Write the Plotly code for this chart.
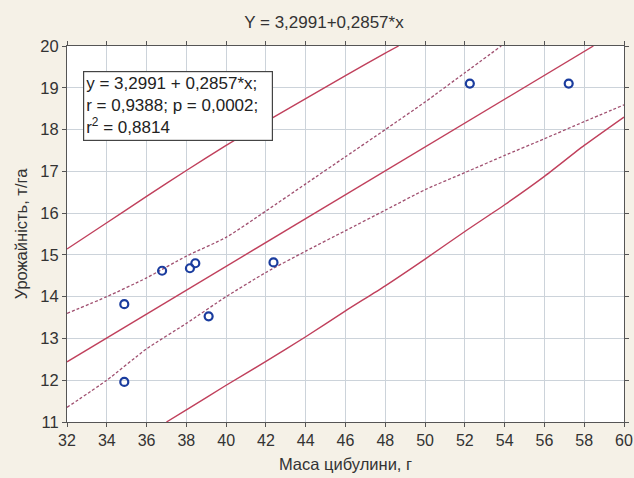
import plotly.graph_objects as go

# Observed data points
mass_g = [34.88, 34.88, 36.78, 38.18, 38.45, 39.12, 42.38, 52.25, 57.22]
yield_t = [13.82, 11.96, 14.62, 14.68, 14.80, 13.53, 14.82, 19.10, 19.10]

# Regression line
reg_x = [32.0, 58.46]
reg_y = [12.44, 20.0]

# Upper prediction band (solid)
pu_x = [32, 34, 36, 38, 40, 42, 44, 46, 48, 48.67]
pu_y = [15.14, 15.77, 16.40, 17.02, 17.62, 18.19, 18.74, 19.29, 19.83, 20.0]

# Lower prediction band (solid)
pl_x = [37.0, 38, 40, 42, 44, 46, 48, 50, 52, 54, 56, 58, 60]
pl_y = [11.0, 11.29, 11.88, 12.45, 13.04, 13.66, 14.26, 14.9, 15.56, 16.2, 16.88, 17.62, 18.3]

# Upper confidence band (dashed)
cu_x = [32, 34, 36, 38, 40, 42, 44, 46, 48, 50, 52, 53.83]
cu_y = [13.6, 14.0, 14.45, 14.97, 15.42, 16.05, 16.7, 17.35, 18.0, 18.66, 19.36, 20.0]

# Lower confidence band (dashed)
cl_x = [32, 34, 36, 38, 40, 42, 44, 46, 48, 50, 52, 54, 56, 58, 60]
cl_y = [11.35, 12.0, 12.75, 13.36, 14.0, 14.58, 15.09, 15.58, 16.07, 16.56, 16.97, 17.38, 17.78, 18.19, 18.59]

title_text = "Y = 3,2991+0,2857*x"
box_lines = ["y = 3,2991 + 0,2857*x;", "r = 0,9388; p = 0,0002;", "r<sup>2</sup> = 0,8814"]

red = "#c0405c"
dash_col = "#a05070"
paper_col = "#f5f1e7"

fig = go.Figure()
for xs, ys in [(pu_x, pu_y), (pl_x, pl_y), (reg_x, reg_y)]:
    fig.add_trace(go.Scatter(x=xs, y=ys, mode="lines",
                             line=dict(color=red, width=1.4, shape="spline", smoothing=0.6),
                             showlegend=False, hoverinfo="skip"))
for xs, ys in [(cu_x, cu_y), (cl_x, cl_y)]:
    fig.add_trace(go.Scatter(x=xs, y=ys, mode="lines",
                             line=dict(color=dash_col, width=1.3, dash="3px,2px", shape="spline", smoothing=0.6),
                             showlegend=False, hoverinfo="skip"))
fig.add_trace(go.Scatter(x=mass_g, y=yield_t, mode="markers",
                         marker=dict(symbol="circle-open", size=8, color="#1a3c9e",
                                     line=dict(width=2.2, color="#1a3c9e")),
                         showlegend=False))

font_fam = "Arial, Liberation Sans, sans-serif"
fs = 16.5
fig.update_layout(
    width=634, height=478,
    margin=dict(l=67, r=10, t=46, b=56, autoexpand=False),
    paper_bgcolor=paper_col,
    plot_bgcolor="white",
    font=dict(family=font_fam, size=fs, color="#333333"),
    title=dict(text=title_text, x=0.511, xanchor="center", xref="container",
               y=0.953, yanchor="middle", yref="container",
               font=dict(size=17, color="#333333")),
    annotations=[dict(
        text="<br>".join(box_lines), xref="paper", yref="paper",
        x=0.0285, y=0.934, xanchor="left", yanchor="top", align="left", showarrow=False,
        width=184, bgcolor="white", bordercolor="#444444", borderwidth=1.2, borderpad=2,
        font=dict(size=17, color="#222222"))],
)
fig.update_xaxes(range=[32, 60], dtick=2, showgrid=True, gridcolor="#ccd3da", gridwidth=1,
                 showline=True, linecolor="#555555", linewidth=1.2, mirror="ticks",
                 ticks="outside", ticklen=4, tickcolor="#555555", zeroline=False,
                 automargin=False,
                 title=dict(text="Маса цибулини, г", standoff=10, font=dict(size=fs)),
                 tickfont=dict(size=16))
fig.update_yaxes(range=[11, 20], dtick=1, showgrid=True, gridcolor="#ccd3da", gridwidth=1,
                 showline=True, linecolor="#555555", linewidth=1.2, mirror="ticks",
                 ticks="outside", ticklen=4, tickcolor="#555555", zeroline=False,
                 automargin=False,
                 title=dict(text="Урожайність, т/га", standoff=8, font=dict(size=fs)),
                 tickfont=dict(size=fs))

post = ("document.body.style.margin='0';document.body.style.padding='0';"
        "document.body.style.overflow='hidden';"
        "document.body.style.background='%s';" % paper_col)
fig.write_html("out.html", post_script=post, config={"displayModeBar": False})
